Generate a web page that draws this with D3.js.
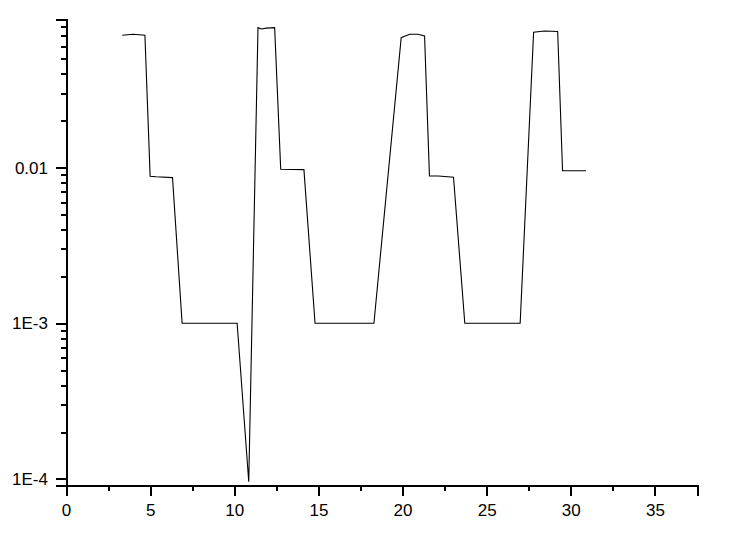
<!DOCTYPE html>
<html>
<head>
<meta charset="utf-8">
<script src="https://cdn.jsdelivr.net/npm/d3@7"></script>
<style>
  body { margin: 0; background: #fff; }
  text { font-family: "Liberation Sans", Arial, sans-serif; }
</style>
</head>
<body>
<svg id="chart" width="729" height="535"></svg>
<script>
const margin = { top: 19, right: 32, bottom: 50, left: 66 };
const width = 729 - margin.left - margin.right;
const height = 535 - margin.top - margin.bottom;

// series
var xValues = [3.34, 3.99, 4.69, 5.00, 5.35, 6.33, 6.90, 10.17, 10.86, 11.41, 11.61, 11.91, 12.40,
    12.76, 14.14, 14.80, 18.30, 19.92, 20.42, 20.91, 21.31, 21.60, 22.14, 23.03, 23.70, 26.99,
    27.79, 28.43, 29.22, 29.51, 30.90]
var yValues = [0.0708, 0.0718, 0.0708, 0.00879, 0.00873, 0.00862, 0.001, 0.001, 0.0000961, 0.0792,
    0.0777, 0.0786, 0.0792, 0.00975, 0.00970, 0.001, 0.001, 0.0683, 0.0718, 0.0718, 0.0700,
    0.00883, 0.00883, 0.00866, 0.001, 0.001, 0.0740, 0.0754, 0.0749, 0.00955, 0.00955]

var xMajorTicks = [0, 5, 10, 15, 20, 25, 30, 35]
var xMinorTicks = [2.5, 7.5, 12.5, 17.5, 22.5, 27.5, 32.5, 37.5]
var yMajorTicks = [0.0001, 0.001, 0.01]
var yMajorLabels = ['1E-4', '1E-3', '0.01']
var yMinorTicks = [0.0002, 0.0003, 0.0004, 0.0005, 0.0006, 0.0007, 0.0008, 0.0009,
    0.002, 0.003, 0.004, 0.005, 0.006, 0.007, 0.008, 0.009,
    0.02, 0.03, 0.04, 0.05, 0.06, 0.07, 0.08, 0.09]

var data = xValues.map((x, i) => ({ x: x, y: yValues[i] }))

var svg = d3.select('#chart')
var g = svg.append('g')
    .attr('transform', 'translate(' + margin.left + ',' + margin.top + ')')

var xScale = d3.scaleLinear()
    .domain([0, 37.5])
    .range([0, width])

var yScale = d3.scaleLog()
    .domain([0.0000915, 0.09])
    .range([height, 0])

// minor ticks first, majors on top
g.append('g')
    .attr('transform', 'translate(0,' + height + ')')
    .call(d3.axisBottom(xScale).tickValues(xMinorTicks).tickSize(6).tickFormat(''))
g.append('g')
    .attr('class', 'x-major')
    .attr('transform', 'translate(0,' + height + ')')
    .call(d3.axisBottom(xScale).tickValues(xMajorTicks).tickSize(11).tickPadding(8).tickFormat(d3.format('d')))

g.append('g')
    .call(d3.axisLeft(yScale).tickValues(yMinorTicks).tickSize(5).tickFormat(''))
g.append('g')
    .attr('class', 'y-major')
    .call(d3.axisLeft(yScale).tickValues(yMajorTicks).tickSize(10).tickPadding(8)
        .tickFormat((d, i) => yMajorLabels[i]))

g.selectAll('.domain')
    .attr('stroke', '#000')
    .attr('stroke-width', 2)
g.selectAll('.tick line')
    .attr('stroke', '#000')
    .attr('stroke-width', 2)
g.selectAll('.tick text')
    .attr('fill', '#000')
    .style('font-size', '17px')
g.selectAll('.domain, .tick line').attr('shape-rendering', 'crispEdges')

var line = d3.line()
    .x(d => xScale(d.x))
    .y(d => yScale(d.y))

g.append('path')
    .datum(data)
    .attr('d', line)
    .attr('fill', 'none')
    .attr('stroke', '#000')
    .attr('stroke-width', 1.1)
</script>
</body>
</html>
